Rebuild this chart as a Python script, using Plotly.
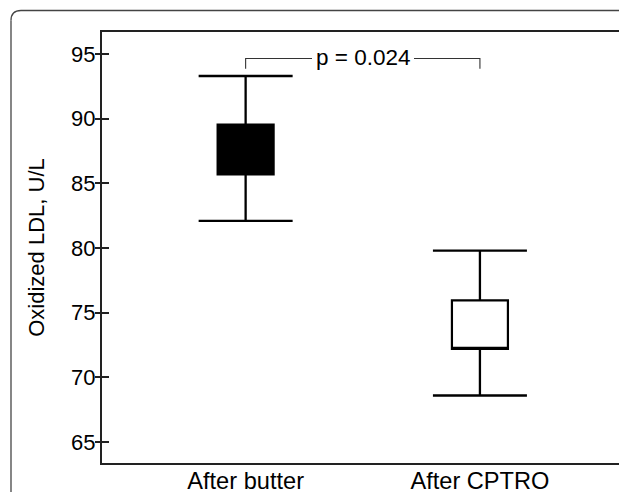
import plotly.graph_objects as go

# ---- data ----
categories = ["After butter", "After CPTRO"]
whisker_low = [82.1, 68.6]
box_low = [85.7, 72.2]
box_high = [89.55, 75.95]
whisker_high = [93.3, 79.8]
box_fill = ["black", "white"]

y_ticks = [65, 70, 75, 80, 85, 90, 95]
y_range = [63.38, 96.7]
y_title = "Oxidized LDL, U/L"

p_label = "p = 0.024"
bracket_low = 93.85
bracket_high = 94.65

FONT = "Liberation Sans, Arial, Helvetica, sans-serif"

FIG_W, FIG_H = 619, 492
L, T, B_MARGIN = 102, 32, 29
W_plot = FIG_W - L
H_plot = FIG_H - T - B_MARGIN
x_range = [-0.613, -0.613 + W_plot / 234.3]

fig = go.Figure()

# whiskers with caps (error bars centred on the top of an invisible bar)
fig.add_trace(go.Bar(
    x=categories,
    y=box_high,
    marker=dict(color="rgba(0,0,0,0)", line=dict(width=0)),
    error_y=dict(
        type="data",
        symmetric=False,
        array=[wh - bh for wh, bh in zip(whisker_high, box_high)],
        arrayminus=[bh - wl for bh, wl in zip(box_high, whisker_low)],
        width=47,
        thickness=2.3,
        color="black",
    ),
    hoverinfo="skip",
    showlegend=False,
))

# boxes
for i, cat in enumerate(categories):
    fig.add_trace(go.Box(
        x=[cat],
        q1=[box_low[i]],
        median=[box_low[i]],
        q3=[box_high[i]],
        lowerfence=[box_low[i]],
        upperfence=[box_high[i]],
        width=0.239,
        fillcolor=box_fill[i],
        line=dict(color="black", width=2.2),
        hoverinfo="skip",
        showlegend=False,
    ))

# significance bracket
fig.add_trace(go.Scatter(
    x=[categories[0], categories[0], categories[1], categories[1]],
    y=[bracket_low, bracket_high, bracket_high, bracket_low],
    mode="lines",
    line=dict(color="#333333", width=1.1),
    hoverinfo="skip",
    showlegend=False,
))

fig.add_annotation(
    x=0.5, y=bracket_high, xref="x", yref="y",
    text=p_label, showarrow=False,
    font=dict(family=FONT, size=22.5, color="black"),
    bgcolor="white", borderpad=4, borderwidth=0,
    yshift=1,
)

# outer rounded frame (left edge, corner, top edge)
px_l, px_t, r = 11, 10.5, 10
B = FIG_H - B_MARGIN
fx = (px_l - L) / W_plot
fy = (B - px_t) / H_plot
dx = r / W_plot
dy = r / H_plot
frame_line = dict(color="#444444", width=1.3)
fig.add_shape(type="line", xref="paper", yref="paper",
              x0=fx, y0=-0.2, x1=fx, y1=fy - dy, line=frame_line, layer="above")
fig.add_shape(type="path", xref="paper", yref="paper",
              path=f"M {fx},{fy - dy} Q {fx},{fy} {fx + dx},{fy}",
              line=frame_line, layer="above")
fig.add_shape(type="line", xref="paper", yref="paper",
              x0=fx + dx, y0=fy, x1=1.0, y1=fy, line=frame_line, layer="above")

fig.update_layout(
    width=FIG_W, height=FIG_H,
    margin=dict(l=L, r=0, t=T, b=B_MARGIN, autoexpand=False),
    paper_bgcolor="white",
    plot_bgcolor="white",
    boxmode="overlay",
    barmode="overlay",
    showlegend=False,
    font=dict(family=FONT, color="black"),
    xaxis=dict(
        type="category",
        range=x_range,
        showgrid=False, zeroline=False,
        showline=True, mirror=True, linecolor="#222222", linewidth=2,
        ticks="",
        ticklabelstandoff=-4,
        tickfont=dict(family=FONT, size=23.6, color="black"),
    ),
    yaxis=dict(
        range=y_range,
        tickvals=y_ticks,
        showgrid=False, zeroline=False,
        showline=True, mirror=False, linecolor="#222222", linewidth=2,
        ticks="",
        tickfont=dict(family=FONT, size=22, color="black"),
        title=dict(text=y_title, font=dict(family=FONT, size=22, color="black"), standoff=20),
    ),
    yaxis2=dict(
        overlaying="y", side="left",
        range=y_range,
        tickvals=y_ticks,
        showgrid=False, zeroline=False, showline=False,
        ticks="inside", ticklen=7, tickwidth=1.5, tickcolor="#222222",
        showticklabels=False,
    ),
    yaxis3=dict(
        overlaying="y", side="left",
        range=y_range,
        tickvals=y_ticks,
        showgrid=False, zeroline=False, showline=False,
        ticks="outside", ticklen=6, tickwidth=1.5, tickcolor="#222222",
        showticklabels=False,
    ),
)

# dummy traces to activate the tick-only axes
fig.add_trace(go.Scatter(x=[categories[0]], y=[None], yaxis="y2", showlegend=False, hoverinfo="skip"))
fig.add_trace(go.Scatter(x=[categories[0]], y=[None], yaxis="y3", showlegend=False, hoverinfo="skip"))

fig.write_html(
    "out.html",
    config={"displayModeBar": False},
    post_script="document.body.style.margin='0';document.body.style.overflow='hidden';document.documentElement.style.overflow='hidden';",
)
